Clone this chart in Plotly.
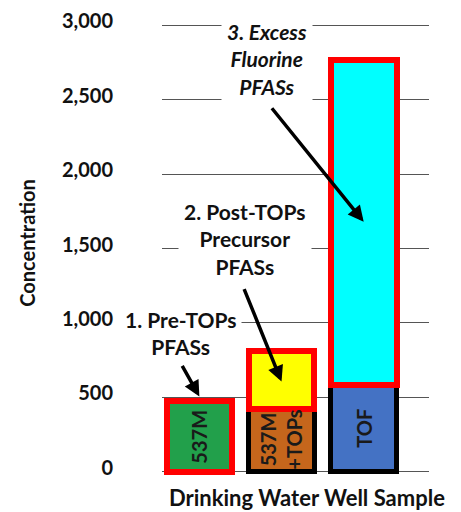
import plotly.graph_objects as go

# ---- data ----
categories = ["537M", "537M +TOPs", "TOF"]
bar_labels = ["537M", "537M<br>+TOPs", "TOF"]
measured = [475, 423, 585]          # lower (measured) bars
additional = [None, 390, 2185]      # upper (red-outlined) increments
lower_colors = ["#22A04B", "#C5661C", "#4472C4"]
lower_line_colors = ["#FF0000", "#000000", "#000000"]
lower_line_widths = [6, 5, 5]
upper_colors = ["rgba(0,0,0,0)", "#FFFF00", "#00FFFF"]
y_ticks = [0, 500, 1000, 1500, 2000, 2500, 3000]

FONT = "Lato"
fig = go.Figure()
fig.add_trace(go.Bar(
    x=categories, y=measured, width=0.8,
    marker=dict(color=lower_colors,
                line=dict(color=lower_line_colors, width=lower_line_widths)),
    hoverinfo="skip", showlegend=False))
fig.add_trace(go.Bar(
    x=categories, y=additional, width=0.8,
    marker=dict(color=upper_colors, line=dict(color="#FF0000", width=6)),
    hoverinfo="skip", showlegend=False))

annots = []
# labels inside the lower bars
for i, (lab, v) in enumerate(zip(bar_labels, measured)):
    annots.append(dict(x=i, y=v / 2, text=lab, showarrow=False, textangle=-90,
                       font=dict(family=FONT, size=20, color="#1a1a1a", weight="bold")))

# callout texts
callouts = [
    ("1. Pre-TOPs<br>PFASs", -0.224, 934, False),
    ("2. Post-TOPs<br>Precursor<br>PFASs", 0.555, 1565, False),
    ("3. Excess<br>Fluorine<br>PFASs", 0.823, 2774, True),
]
for txt, x, y, ital in callouts:
    annots.append(dict(x=x, y=y, text=txt, showarrow=False, bgcolor="white",
                       borderpad=5,
                       font=dict(family=FONT, size=21, color="#111", weight="bold",
                                 style="italic" if ital else "normal")))

# arrows (head at data point, tail offset in px)
arrows = [
    (0, measured[0] + 30, -18, -32),
    (1, 605, -38, -94),
    (2, 1680, -93, -115),
]
for x, y, ax, ay in arrows:
    annots.append(dict(x=x, y=y, text="", showarrow=True, ax=ax, ay=ay,
                       arrowhead=2, arrowsize=0.9, arrowwidth=3.5,
                       arrowcolor="black"))

# axis titles
annots.append(dict(xref="paper", yref="paper", x=-0.5056, y=0.516,
                   xanchor="center", yanchor="middle",
                   text="Concentration", textangle=-90, showarrow=False,
                   font=dict(family=FONT, size=20, color="#111", weight="bold")))
annots.append(dict(xref="paper", yref="paper", x=0.543, y=-0.0403,
                   xanchor="center", yanchor="middle",
                   text="Drinking Water Well Sample", showarrow=False,
                   font=dict(family=FONT, size=22, color="#111", weight="bold")))

fig.update_layout(
    width=453, height=504,
    margin=dict(l=154, r=32, t=13, b=32.5, autoexpand=False),
    barmode="stack", plot_bgcolor="white", paper_bgcolor="white",
    annotations=annots,
    xaxis=dict(range=[-0.455, 2.795], showticklabels=False, showgrid=False,
               zeroline=False, showline=False, fixedrange=True,
               automargin=False),
    yaxis=dict(range=[-50, 3030], tickvals=y_ticks, tickformat=",",
               showgrid=True, gridcolor="#555", gridwidth=1,
               zeroline=True, zerolinecolor="#555", zerolinewidth=1,
               showline=False, ticks="", ticklabelstandoff=48,
               ticklabelshift=-4, automargin=False,
               tickfont=dict(family=FONT, size=20, color="#111", weight="bold")),
)
fig.write_html("out.html")
